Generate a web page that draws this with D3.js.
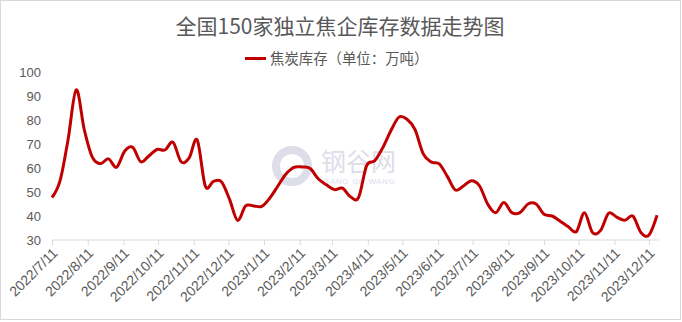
<!DOCTYPE html>
<html><head><meta charset="utf-8">
<script src="https://cdn.jsdelivr.net/npm/d3@7"></script>
<style>body{margin:0;background:#fff;} svg{display:block;}</style>
</head><body>
<svg id="c" width="682" height="322"></svg>
<script>
const title = "全国150家独立焦企库存数据走势图";
const seriesName = "焦炭库存（单位：万吨）";
const startDate = "2022-07-11"; // weekly data
const values = [47.7,54.7,72,92.6,76,64.5,61.8,63.8,60.3,67,68.6,62.6,65,67.7,67.5,70.7,62.6,64.2,71.7,52.5,
  54.4,54.3,47,38.2,44.2,44.2,44,47.5,52.5,57.5,60.3,60.4,59.8,55.5,53,51,51.6,48,47.7,61,
  63,68.5,75.5,81.2,80.3,76,66,62.5,61.7,56.5,50.8,52.5,54.7,52.5,45,41.4,45.6,41.4,41.4,45,
  45,40.7,40,37.8,35.5,33.5,41.4,33.1,34,41.2,39.5,38.2,40,33.1,32.1,40.3];
const xTickLabels = ["2022/7/11","2022/8/11","2022/9/11","2022/10/11","2022/11/11","2022/12/11","2023/1/11","2023/2/11","2023/3/11","2023/4/11","2023/5/11","2023/6/11","2023/7/11","2023/8/11","2023/9/11","2023/10/11","2023/11/11","2023/12/11"];
const yTicks = [30,40,50,60,70,80,90,100];

const parse = d3.timeParse("%Y/%m/%d");
const tickDates = xTickLabels.map(parse);
const t0 = parse(startDate.replace(/-/g,"/"));
const data = values.map((v,i)=>({date:d3.timeDay.offset(t0, 7*i), v}));

const svg = d3.select("#c");
svg.append("rect").attr("x",0.5).attr("y",0.5).attr("width",680).attr("height",319)
  .attr("fill","#fff").attr("stroke","#d9d9d9");

const x = d3.scaleTime().domain([tickDates[0], tickDates[tickDates.length-1]]).range([52,649]);
const y = d3.scaleLinear().domain([30,100]).range([240,72]);

// watermark
const wm = svg.append("g").attr("opacity",0.8);
wm.append("circle").attr("cx",292).attr("cy",166).attr("r",16).attr("fill","none").attr("stroke","#d6d6e6").attr("stroke-width",8);
wm.append("text").attr("x",321).attr("y",171).attr("font-family","Noto Sans CJK SC").attr("font-size",25)
  .attr("fill","#d6d6e6").text("钢谷网");
wm.append("text").attr("x",323).attr("y",184).attr("font-family","Liberation Sans").attr("font-size",8)
  .attr("fill","#d6d6e6").attr("textLength",72).text("GANG GU WANG");

// title
svg.append("text").attr("x",340).attr("y",34).attr("text-anchor","middle")
  .attr("font-family","Noto Sans CJK SC").attr("font-size",21).attr("fill","#595959").text(title);

// legend
svg.append("line").attr("x1",245).attr("x2",266).attr("y1",58.5).attr("y2",58.5)
  .attr("stroke","#c00000").attr("stroke-width",3);
svg.append("text").attr("x",270).attr("y",63.5).attr("font-family","Noto Sans CJK SC")
  .attr("font-size",14.4).attr("fill","#595959").text(seriesName);

// y labels
svg.append("g").selectAll("text").data(yTicks).join("text")
  .attr("x",41).attr("y",d=>y(d)).attr("dy","0.35em").attr("text-anchor","end")
  .attr("font-family","Liberation Sans").attr("font-size",13).attr("fill","#595959").text(d=>d);

// x axis
const xa = svg.append("g").attr("transform","translate(0,240)")
  .call(d3.axisBottom(x).tickValues(tickDates).tickSize(5).tickSizeOuter(0).tickFormat((d,i)=>xTickLabels[i]));
xa.select(".domain").remove();
xa.append("line").attr("x1",52).attr("x2",x(data[data.length-1].date)+1.5).attr("stroke","#d9d9d9").attr("stroke-width",1.2);
xa.selectAll(".tick line").attr("stroke","#d9d9d9");
xa.selectAll(".tick text").attr("font-family","Liberation Sans").attr("font-size",14).attr("fill","#595959")
  .attr("text-anchor","end").attr("dy",0).attr("y",0)
  .attr("transform","translate(6,14) rotate(-45)");

// line
svg.append("path").datum(data)
  .attr("d", d3.line().x(d=>x(d.date)).y(d=>y(d.v)).curve(d3.curveCardinal.tension(0)))
  .attr("fill","none").attr("stroke","#c00000").attr("stroke-width",3).attr("stroke-linejoin","round");
</script>
</body></html>
